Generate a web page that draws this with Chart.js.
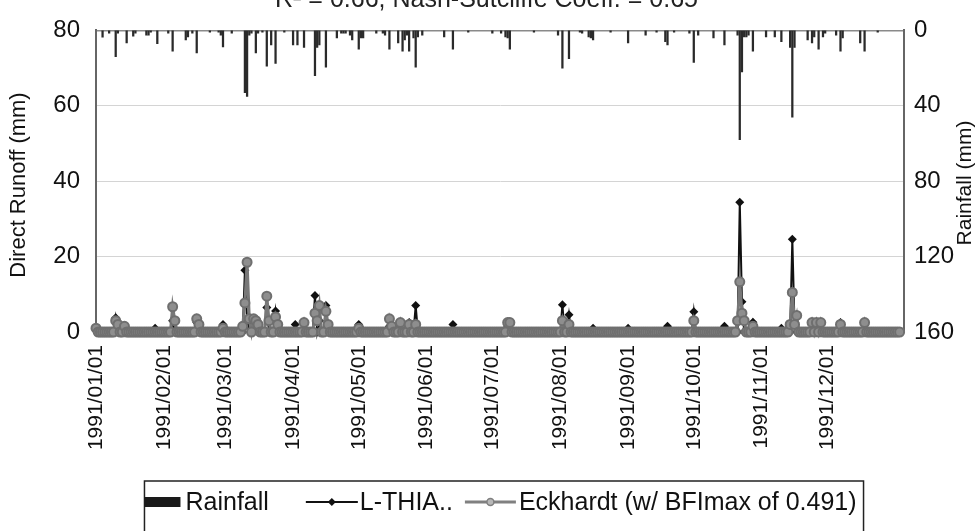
<!DOCTYPE html>
<html lang="en">
<head>
<meta charset="UTF-8">
<title>Direct runoff and rainfall 1991</title>
<script src="https://cdn.jsdelivr.net/npm/chart.js"></script>
<style>
  html, body { margin: 0; padding: 0; background: #fff; }
  #wrap { width: 979px; height: 531px; }
</style>
</head>
<body>
<div id="wrap"><canvas id="runoffChart" width="979" height="531"></canvas></div>
<script>
// day of year (0 = 1991/01/01)
const monthDays = [0, 31, 59, 90, 120, 151, 181, 212, 243, 273, 304, 334];
const monthLabels = ['1991/01/01', '1991/02/01', '1991/03/01', '1991/04/01', '1991/05/01', '1991/06/01',
                     '1991/07/01', '1991/08/01', '1991/09/01', '1991/10/01', '1991/11/01', '1991/12/01'];
const lastDay = 367;

// rainfall events (mm), all other days dry
const rainDays = [3, 6, 9, 10, 14, 17, 18, 23, 24, 25, 28, 33, 35, 41, 42, 44, 46, 52, 56, 57, 58, 62,
                  68, 69, 70, 71, 73, 74, 76, 78, 80, 82, 86, 90, 92, 95, 100, 101, 102, 105, 110, 112,
                  113, 114, 116, 117, 120, 121, 122, 128, 131, 132, 134, 138, 140, 141, 142, 143, 145,
                  146, 147, 149, 159, 163, 170, 181, 185, 187, 188, 189, 200, 211, 213, 216, 221, 222,
                  225, 226, 227, 235, 243, 251, 256, 260, 261, 264, 271, 273, 275, 282, 287, 293, 294,
                  295, 296, 297, 298, 300, 306, 310, 313, 317, 318, 319, 325, 327, 328, 330, 332, 333,
                  338, 340, 341, 349, 351, 357];
const rainMm = [3.6, 1.5, 14, 1.5, 6.7, 3, 1.5, 2.5, 2.5, 1, 7, 1.5, 11, 5, 3.5, 1.5, 12, 1, 1, 2.5, 8.7, 1.5,
                33, 35, 2.5, 1.5, 12, 1.5, 1, 19, 7.7, 17.5, 1, 7.7, 7.7, 9, 24, 9, 7.7, 19.5, 4, 1.5,
                1.5, 1.5, 2.5, 5, 10, 4, 4, 1.5, 1.5, 2.5, 10, 6.7, 11, 5, 2.5, 11, 4,
                19.5, 3.5, 2.5, 3.5, 10, 1, 1.5, 1.5, 3.5, 4, 10, 1, 2.5, 20, 15, 1, 1.5,
                3.5, 4, 5, 1, 6.7, 2.5, 1, 6, 7.7, 1, 1.5, 17, 2.5, 4, 7.7, 2.5, 58,
                22, 3.5, 3.5, 2.5, 11, 3.5, 3.5, 6, 9, 46, 9, 5, 6.7, 3.5, 10, 3.5, 1.5,
                2.5, 11, 4, 6.7, 11, 1];

// L-THIA direct runoff (mm), days not listed are ~0
const lthiaDays = [0, 9, 13, 27, 35, 46, 58, 68, 69, 70, 72, 73, 78, 82, 83, 91, 100, 102, 105, 120, 134,
                   143, 146, 163, 188, 213, 216, 227, 243, 261, 273, 287, 294, 295, 300, 313, 318, 319, 340, 351];
const lthiaMm = [1, 3.8, 1, 1, 3, 2.5, 2, 16.4, 3, 1.5, 1.5, 2, 6.5, 5.6, 1.5, 2, 9.7, 3, 7, 2, 1.5,
                 2.5, 7, 2, 1.5, 7.2, 4.6, 1, 1, 1.5, 5.4, 1.5, 34.4, 8, 2.6, 1, 24.6, 2, 2.5, 2.5];

// Eckhardt filter direct runoff (mm), days not listed are ~0
const eckDays = [0, 9, 10, 13, 35, 36, 46, 47, 58, 67, 68, 69, 70, 72, 73, 74, 78, 79, 82, 83, 95, 100, 101,
                 102, 105, 106, 120, 134, 135, 139, 143, 146, 188, 189, 213, 216, 273, 293, 294, 295, 296,
                 300, 317, 318, 319, 320, 327, 329, 331, 340, 351];
const eckMm = [1, 3, 2, 1.5, 6.7, 3, 3.5, 2, 1, 1.5, 7.7, 18.5, 3.5, 3.5, 3, 2, 9.5, 3, 4, 2, 2.5, 5, 3,
               7, 5.5, 2, 1, 3.5, 1.5, 2.5, 2, 2, 2.5, 2.5, 3, 2, 3, 3, 13.3, 5, 3,
               1.5, 2, 10.5, 2, 4.4, 2.5, 2.5, 2.5, 2, 2.5];

const leftTicks = [0, 20, 40, 60, 80];
const rightTicks = [0, 40, 80, 120, 160];

function daily(days, vals) {
    const out = [];
    for (let d = 0; d <= lastDay; d++) {
        const i = days.indexOf(d);
        out.push({ x: d, y: i >= 0 ? vals[i] : 0 });
    }
    return out;
}

const FONT = "'Liberation Sans', Arial, sans-serif";

// title sits half outside the top edge, axis titles placed by hand
const textPlugin = {
    id: 'texts',
    afterDraw(chart) {
        const c = chart.ctx;
        c.save();
        c.fillStyle = '#222';
        c.font = '25px ' + FONT;
        c.textAlign = 'center';
        c.textBaseline = 'alphabetic';
        c.fillText('R² = 0.66, Nash-Sutcliffe Coeff. = 0.65', chart.width / 2 - 3, 7);

        c.textBaseline = 'middle';
        c.fillStyle = '#111';
        [['Direct Runoff (mm)', 19, 185, 22], ['Rainfall (mm)', 965, 183, 21]].forEach(([t, x, y, size]) => {
            c.save();
            c.font = size + 'px ' + FONT;
            c.translate(x, y);
            c.rotate(-Math.PI / 2);
            c.fillText(t, 0, 0);
            c.restore();
        });
        c.restore();
    }
};

const legendPlugin = {
    id: 'boxLegend',
    afterDraw(chart) {
        const c = chart.ctx;
        const top = 481, midY = 502;
        c.save();
        c.font = '25px ' + FONT;
        c.textBaseline = 'middle';
        const items = [
            { text: 'Rainfall', sym: 36, gapBefore: 0, gapText: 5, kind: 'rect' },
            { text: 'L-THIA..', sym: 52, gapBefore: 37, gapText: 2, kind: 'diamond' },
            { text: 'Eckhardt (w/ BFImax of 0.491)', sym: 51, gapBefore: 12, gapText: 3, kind: 'circle' }
        ];
        let total = 7;
        items.forEach(it => { it.w = c.measureText(it.text).width; total += it.gapBefore + it.sym + it.gapText + it.w; });
        const cx = (chart.chartArea.left + chart.chartArea.right) / 2 + 4;
        let x = cx - total / 2;
        c.strokeStyle = '#222';
        c.lineWidth = 1.5;
        c.strokeRect(x, top, total, 80);
        items.forEach(it => {
            x += it.gapBefore;
            if (it.kind === 'rect') {
                c.fillStyle = '#1a1a1a';
                c.fillRect(x, midY - 5, it.sym, 10);
            } else if (it.kind === 'diamond') {
                c.strokeStyle = '#111';
                c.lineWidth = 2;
                c.beginPath(); c.moveTo(x, midY); c.lineTo(x + it.sym, midY); c.stroke();
                const m = x + it.sym / 2;
                c.fillStyle = '#111';
                c.beginPath(); c.moveTo(m, midY - 4); c.lineTo(m + 4, midY); c.lineTo(m, midY + 4); c.lineTo(m - 4, midY); c.closePath(); c.fill();
            } else {
                c.strokeStyle = '#808080';
                c.lineWidth = 3;
                c.beginPath(); c.moveTo(x, midY); c.lineTo(x + it.sym, midY); c.stroke();
                c.fillStyle = '#b8b8b8';
                c.lineWidth = 1.5;
                c.beginPath(); c.arc(x + it.sym / 2, midY, 3.5, 0, Math.PI * 2); c.fill(); c.stroke();
            }
            x += it.sym + it.gapText;
            c.fillStyle = '#111';
            c.textAlign = 'left';
            c.fillText(it.text, x, midY + 1);
            x += it.w;
        });
        c.restore();
    }
};

const ctx = document.getElementById('runoffChart').getContext('2d');
const chart = new Chart(ctx, {
    type: 'bar',
    data: {
        datasets: [
            {
                type: 'line',
                label: 'Eckhardt (w/ BFImax of 0.491)',
                data: daily(eckDays, eckMm),
                yAxisID: 'y',
                clip: false,
                borderColor: '#787878',
                borderWidth: 3,
                pointStyle: 'circle',
                pointRadius: 4.5,
                pointBorderWidth: 2,
                pointBorderColor: '#6f6f6f',
                pointBackgroundColor: '#8e8e8e',
                order: 1
            },
            {
                type: 'line',
                label: 'L-THIA..',
                data: daily(lthiaDays, lthiaMm),
                yAxisID: 'y',
                clip: false,
                borderColor: '#111',
                borderWidth: 2,
                pointStyle: 'rectRot',
                pointRadius: 4.5,
                pointBorderWidth: 0,
                pointBackgroundColor: '#111',
                order: 2
            },
            {
                type: 'bar',
                label: 'Rainfall',
                data: rainDays.map((d, i) => ({ x: d, y: rainMm[i] })),
                yAxisID: 'y2',
                backgroundColor: '#2a2a2a',
                barThickness: 1.6,
                order: 3
            }
        ]
    },
    options: {
        responsive: false,
        animation: false,
        layout: { padding: { top: 20, bottom: 50, left: 0, right: 0 } },
        plugins: {
            legend: { display: false },
            tooltip: { enabled: false },
            title: { display: false }
        },
        scales: {
            x: {
                type: 'linear',
                min: 0,
                max: 369,
                offset: false,
                afterBuildTicks: s => { s.ticks = monthDays.map(v => ({ value: v })); },
                afterFit: s => { s.height = 149; },
                ticks: {
                    autoSkip: false,
                    minRotation: 90,
                    maxRotation: 90,
                    padding: 13,
                    color: '#111',
                    font: { family: FONT, size: 21 },
                    callback: v => monthLabels[monthDays.indexOf(v)]
                },
                grid: { display: false, drawTicks: false },
                border: { display: true, color: '#777', width: 1 }
            },
            y: {
                position: 'left',
                min: 0,
                max: 80,
                afterBuildTicks: s => { s.ticks = leftTicks.map(v => ({ value: v })); },
                afterFit: s => { s.width = 96; },
                ticks: { padding: 16, color: '#111', font: { family: FONT, size: 24 } },
                grid: {
                    drawTicks: false,
                    color: c => c.tick && c.tick.value === 80 ? '#8a8a8a' : '#d4d4d4',
                    lineWidth: c => c.tick && c.tick.value === 80 ? 1.5 : 1
                },
                border: { display: true, color: '#666', width: 2 }
            },
            y2: {
                position: 'right',
                reverse: true,
                min: 0,
                max: 160,
                afterBuildTicks: s => { s.ticks = rightTicks.map(v => ({ value: v })); },
                afterFit: s => { s.width = 75; },
                ticks: { padding: 10, color: '#111', font: { family: FONT, size: 24 } },
                grid: { display: false, drawTicks: false },
                border: { display: true, color: '#666', width: 2 }
            }
        }
    },
    plugins: [textPlugin, legendPlugin]
});
</script>
</body>
</html>
